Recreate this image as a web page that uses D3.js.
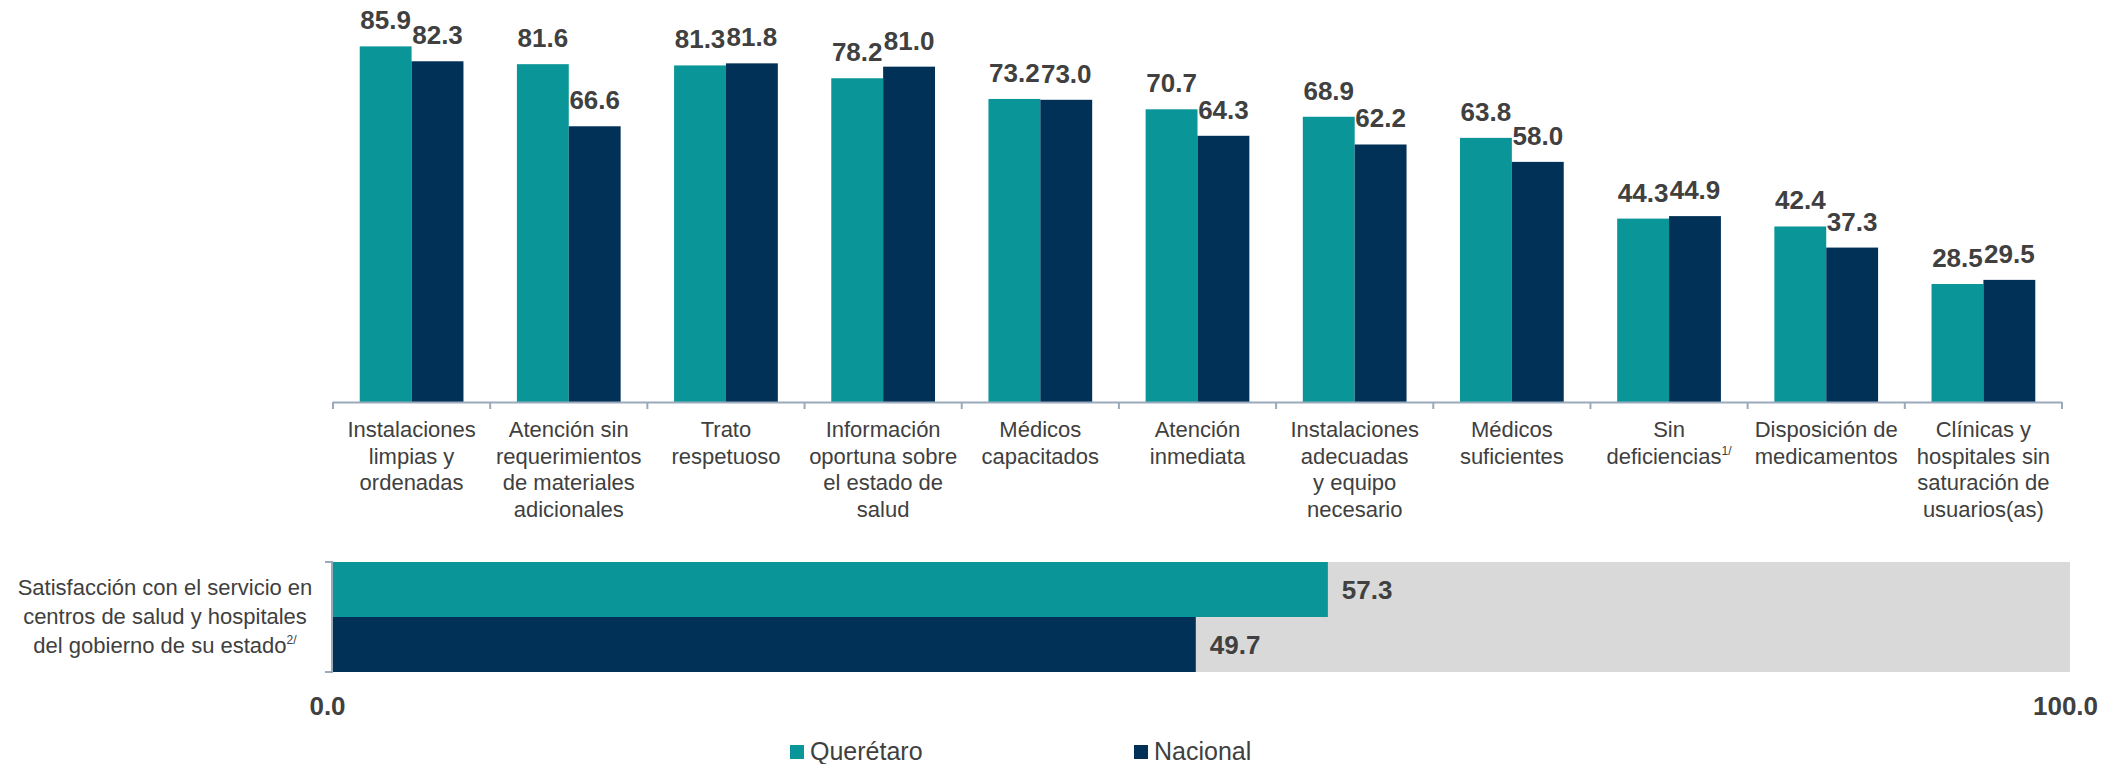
<!DOCTYPE html>
<html>
<head>
<meta charset="utf-8">
<script src="https://cdnjs.cloudflare.com/ajax/libs/d3/7.8.5/d3.min.js"></script>
<style>
  body { margin: 0; background: #fff; }
  text { font-family: "Liberation Sans", Arial, sans-serif; }
</style>
</head>
<body>
<div class="chart"></div>
<script>
// categories (each one split in its label lines)
var categories = [
  ['Instalaciones', 'limpias y', 'ordenadas'],
  ['Atención sin', 'requerimientos', 'de materiales', 'adicionales'],
  ['Trato', 'respetuoso'],
  ['Información', 'oportuna sobre', 'el estado de', 'salud'],
  ['Médicos', 'capacitados'],
  ['Atención', 'inmediata'],
  ['Instalaciones', 'adecuadas', 'y equipo', 'necesario'],
  ['Médicos', 'suficientes'],
  ['Sin', 'deficiencias|1/'],
  ['Disposición de', 'medicamentos'],
  ['Clínicas y', 'hospitales sin', 'saturación de', 'usuarios(as)']
];
var series = ['Querétaro', 'Nacional'];
var queretaro = [85.9, 81.6, 81.3, 78.2, 73.2, 70.7, 68.9, 63.8, 44.3, 42.4, 28.5];
var nacional = [82.3, 66.6, 81.8, 81.0, 73.0, 64.3, 62.2, 58.0, 44.9, 37.3, 29.5];

// lower chart
var satisfLabel = ['Satisfacción con el servicio en', 'centros de salud y hospitales', 'del gobierno de su estado|2/'];
var satisfaccion = [57.3, 49.7];
var satisfTicks = [0, 100];

var colors = ['#0a9698', '#023157'];
var W = 2124, H = 764;
var fmt = d3.format('.1f');

var svg = d3.select('.chart')
  .append('svg')
    .attr('width', W)
    .attr('height', H);

// ---------- upper grouped bars ----------
var idx = d3.range(categories.length);
var x0 = d3.scaleBand()
  .domain(idx)
  .range([333, 2062])
  .paddingInner(0.34)
  .paddingOuter(0.17);

var x1 = d3.scaleBand()
  .domain(series)
  .range([0, x0.bandwidth()]);

var y = d3.scaleLinear()
  .domain([0, 100])
  .range([402, -12]);

var rows = idx.map(i => ({ i: i, values: [queretaro[i], nacional[i]] }));

var groups = svg.selectAll('.group')
  .data(rows)
  .enter()
  .append('g')
    .attr('class', 'group')
    .attr('transform', d => `translate(${x0(d.i)}, 0)`);

groups.selectAll('rect')
  .data(d => d.values.map((v, k) => ({ s: series[k], v: v, k: k })))
  .enter()
  .append('rect')
    .attr('x', d => x1(d.s))
    .attr('y', d => y(d.v))
    .attr('width', x1.bandwidth())
    .attr('height', d => y(0) - y(d.v))
    .style('fill', d => colors[d.k]);

groups.selectAll('.val')
  .data(d => d.values.map((v, k) => ({ s: series[k], v: v })))
  .enter()
  .append('text')
    .attr('class', 'val')
    .attr('x', d => x1(d.s) + x1.bandwidth() / 2)
    .attr('y', d => y(d.v) - 17)
    .attr('text-anchor', 'middle')
    .style('font-size', '26px')
    .style('font-weight', 'bold')
    .style('fill', '#404040')
    .text(d => fmt(d.v));

// category axis: line plus ticks at the category borders
var axisColor = '#9aaabb';
var step = x0.step();
svg.append('line')
  .attr('x1', x0.range()[0]).attr('x2', x0.range()[1])
  .attr('y1', y(0) + 0.5).attr('y2', y(0) + 0.5)
  .style('stroke', axisColor)
  .style('stroke-width', 2);

svg.selectAll('.ctick')
  .data(d3.range(categories.length + 1))
  .enter()
  .append('line')
    .attr('class', 'ctick')
    .attr('x1', i => x0.range()[0] + i * step)
    .attr('x2', i => x0.range()[0] + i * step)
    .attr('y1', y(0))
    .attr('y2', y(0) + 7)
    .style('stroke', axisColor)
    .style('stroke-width', 2);

// writes "text|sup" lines, the part after | as a superscript
function addLines(sel, lines, size, lh) {
  lines.forEach(function (ln, j) {
    var parts = ln.split('|');
    sel.append('tspan')
      .attr('x', sel.attr('x'))
      .attr('dy', j === 0 ? 0 : lh)
      .text(parts[0]);
    if (parts[1]) {
      sel.append('tspan')
        .attr('dy', -9)
        .style('font-size', (size * 0.55) + 'px')
        .text(parts[1]);
      sel.append('tspan').attr('dy', 9).text('');
    }
  });
}

idx.forEach(function (i) {
  var t = svg.append('text')
    .attr('x', x0(i) + x0.bandwidth() / 2)
    .attr('y', 437)
    .attr('text-anchor', 'middle')
    .style('font-size', '22px')
    .style('fill', '#404040');
  addLines(t, categories[i], 22, 26.5);
});

// ---------- lower satisfaction bar ----------
var xb = d3.scaleLinear()
  .domain([0, 100])
  .range([332, 2070]);

var yb = d3.scaleBand()
  .domain(series)
  .range([562, 672]);

svg.append('rect')
  .attr('x', xb(0))
  .attr('y', yb.range()[0])
  .attr('width', xb(100) - xb(0))
  .attr('height', yb.range()[1] - yb.range()[0])
  .style('fill', '#d9d9d9');

svg.selectAll('.sbar')
  .data(satisfaccion)
  .enter()
  .append('rect')
    .attr('class', 'sbar')
    .attr('x', xb(0))
    .attr('y', (d, k) => yb(series[k]))
    .attr('width', d => xb(d) - xb(0))
    .attr('height', yb.bandwidth())
    .style('fill', (d, k) => colors[k]);

svg.selectAll('.sval')
  .data(satisfaccion)
  .enter()
  .append('text')
    .attr('class', 'sval')
    .attr('x', d => xb(d) + 14)
    .attr('y', (d, k) => yb(series[k]) + yb.bandwidth() / 2 + 9)
    .style('font-size', '26px')
    .style('font-weight', 'bold')
    .style('fill', '#404040')
    .text(d => fmt(d));

// left bracket axis
svg.append('path')
  .attr('d', `M${xb(0) - 7},${yb.range()[0]}H${xb(0)}V${yb.range()[1]}H${xb(0) - 7}`)
  .style('fill', 'none')
  .style('stroke', axisColor)
  .style('stroke-width', 2);

var lab = svg.append('text')
  .attr('x', 165)
  .attr('y', 595)
  .attr('text-anchor', 'middle')
  .style('font-size', '22px')
  .style('fill', '#404040');
addLines(lab, satisfLabel, 22, 29);

// 0.0 and 100.0
var xAxis = svg.append('g')
  .attr('transform', 'translate(0, 672)')
  .call(d3.axisBottom(xb).tickValues(satisfTicks).tickFormat(fmt).tickSize(0));
xAxis.select('.domain').remove();
xAxis.selectAll('text')
  .attr('y', 43)
  .attr('dy', 0)
  .attr('dx', -5)
  .style('font-family', '"Liberation Sans", Arial, sans-serif')
  .style('font-size', '26px')
  .style('font-weight', 'bold')
  .style('fill', '#404040');

// ---------- legend ----------
var legendX = [790, 1134];
var legend = svg.selectAll('.legend')
  .data(series)
  .enter()
  .append('g')
    .attr('class', 'legend')
    .attr('transform', (d, k) => `translate(${legendX[k]}, 745)`);

legend.append('rect')
  .attr('width', 14)
  .attr('height', 14)
  .style('fill', (d, k) => colors[k]);

legend.append('text')
  .attr('x', 20)
  .attr('y', 15)
  .style('font-size', '25px')
  .style('fill', '#404040')
  .text(d => d);
</script>
</body>
</html>
